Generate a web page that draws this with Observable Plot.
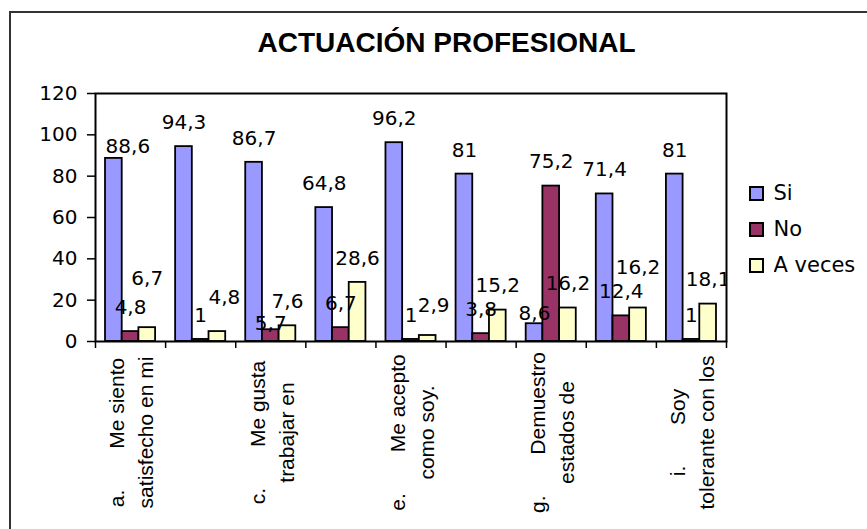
<!DOCTYPE html>
<html>
<head>
<meta charset="utf-8">
<script src="https://cdn.jsdelivr.net/npm/d3@7"></script>
<script src="https://cdn.jsdelivr.net/npm/@observablehq/plot@0.6"></script>
<style>
  html, body { margin: 0; padding: 0; width: 867px; height: 529px; overflow: hidden; background: #fff; }
  body { position: relative; }
  #title { height: 70px; box-sizing: border-box; padding-top: 29px; padding-left: 26px; width: 867px;
           text-align: center; font: bold 28px "Liberation Sans", Arial, sans-serif; line-height: 28px; color: #000; }
  #border { position: absolute; left: 9px; top: 11px; width: 2000px; height: 2000px;
            border-left: 2px solid #333; border-top: 2px solid #333; pointer-events: none; }
  #legend { position: absolute; left: 750px; top: 175px; }
  #legend .lg-swatch { height: 36px; padding: 0; margin: 0; }
  #legend svg rect { stroke: #000; stroke-width: 2px; }
</style>
</head>
<body>
<div id="title">ACTUACIÓN PROFESIONAL</div>
<div id="chart"></div>
<div id="legend"></div>
<div id="border"></div>
<script>
// ---- data ----
const categories = ["a", "b", "c", "d", "e", "f", "g", "h", "i"];
const series = ["Si", "No", "A veces"];
const si     = [88.6, 94.3, 86.7, 64.8, 96.2, 81, 8.6, 71.4, 81];
const no     = [4.8, 1, 5.7, 6.7, 1, 3.8, 75.2, 12.4, 1];
const aVeces = [6.7, 4.8, 7.6, 28.6, 2.9, 15.2, 16.2, 16.2, 18.1];
const NB = "\u00A0";
const tickLabels = [
  "a." + NB.repeat(7) + "Me siento\nsatisfecho en mi", "",
  "c." + NB.repeat(7) + "Me gusta\ntrabajar en", "",
  "e." + NB.repeat(7) + "Me acepto\ncomo soy.", "",
  "g." + NB.repeat(7) + "Demuestro\nestados de", "",
  "i." + NB.repeat(7) + "Soy\ntolerante con los"
];
const yTicks = [0, 20, 40, 60, 80, 100, 120];
const colors = ["#9999FF", "#993366", "#FFFFCC"];

// ---- styling (label nudges in px, as in the original layout) ----
const labelNudge = {
  "a|Si": [14, 12], "c|No": [0, 18], "g|Si": [0, 14],
  "a|A veces": [0, -25], "b|A veces": [7, -10], "e|A veces": [6, -6], "h|A veces": [0, -16]
};

const seriesValues = [si, no, aVeces];
const rows = [];
categories.forEach((c, i) => {
  seriesValues.forEach((arr, k) => rows.push({cat: c, i, k, series: series[k], value: arr[i]}));
});

const gapRatio = 1.2;
const barW = 1 / (3 + gapRatio);
const pad = barW * gapRatio / 2;
const fmt = v => String(v).replace(".", ",");

const valueLabels = rows.map(d => {
  const n = labelNudge[d.cat + "|" + d.series] || [0, 0];
  return Plot.text([d], {
    x: r => r.i + pad + (r.k + 0.5) * barW,
    y: "value",
    text: r => fmt(r.value),
    dx: n[0], dy: -24 + n[1],
    fill: "#000", fontSize: 20, clip: true
  });
});

const chart = Plot.plot({
  width: 867, height: 459,
  marginTop: 23, marginBottom: 188, marginLeft: 95, marginRight: 141,
  x: {type: "linear", domain: [0, categories.length]},
  y: {domain: [0, 120]},
  color: {domain: series, range: colors},
  style: {fontFamily: "DejaVu Sans, sans-serif", fontSize: "20px", background: "transparent", color: "#000", overflow: "visible"},
  marks: [
    Plot.rect(rows, {
      x1: d => d.i + pad + d.k * barW,
      x2: d => d.i + pad + (d.k + 1) * barW,
      y1: 0, y2: "value",
      fill: "series", stroke: "#000", strokeWidth: 1.8
    }),
    Plot.frame({stroke: "#000", strokeWidth: 2}),
    Plot.axisY({ticks: yTicks, tickSize: 8, tickPadding: 10, label: null, tickFormat: d => String(d), stroke: "#000", strokeWidth: 1.5}),
    Plot.axisX({ticks: d3.range(categories.length + 1), tickSize: 7, tickFormat: () => "", label: null, stroke: "#000", strokeWidth: 1.5}),
    ...valueLabels,
    Plot.text(tickLabels.map((t, i) => ({t, i})).filter(d => d.t), {
      x: d => d.i + 0.5, text: "t", frameAnchor: "bottom", dy: 91, dx: -1,
      rotate: -90, textAnchor: "middle", lineAnchor: "middle", lineHeight: 1.38,
      fontSize: 21, fontFamily: "Liberation Sans, Arial, sans-serif", fill: "#000"
    })
  ]
});
document.getElementById("chart").appendChild(chart);

const legend = Plot.legend({
  legend: "swatches",
  color: {type: "ordinal", domain: series, range: colors},
  columns: 1, swatchSize: 13, className: "lg",
  style: {fontFamily: "DejaVu Sans, sans-serif", fontSize: "21px", color: "#000", margin: "0"}
});
document.getElementById("legend").appendChild(legend);
</script>
</body>
</html>
